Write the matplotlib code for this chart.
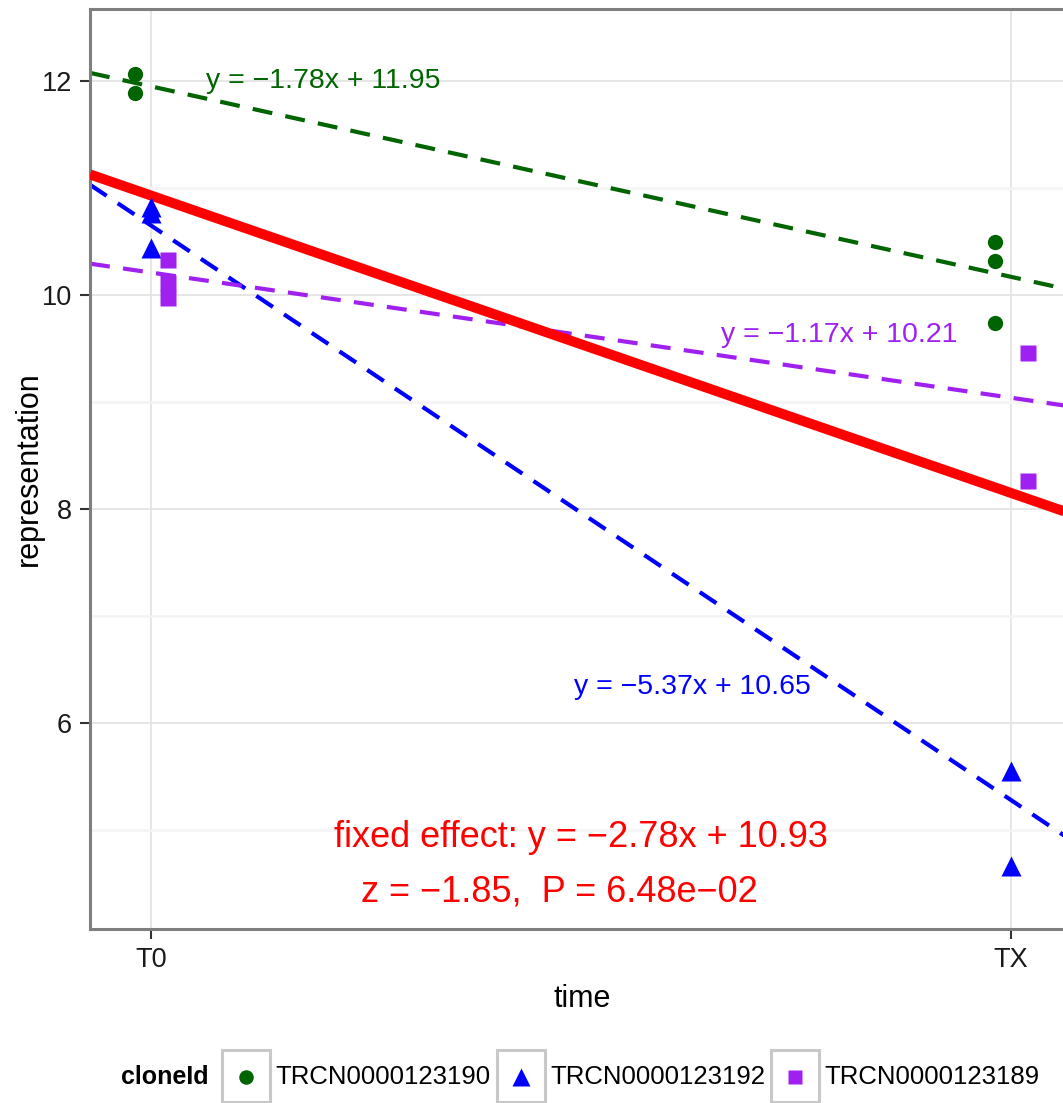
import numpy as np
import matplotlib
matplotlib.use("Agg")
import matplotlib.pyplot as plt
from matplotlib.patches import Rectangle
from matplotlib.lines import Line2D

plt.rcParams["font.family"] = ["Liberation Sans", "DejaVu Sans"]

# ------------------------------------------------------------------
# data: representation per clone at the two time points
# ------------------------------------------------------------------
times = ["T0", "TX"]
clones = ["TRCN0000123190", "TRCN0000123192", "TRCN0000123189"]

rep_t0 = {
    "TRCN0000123190": [12.07, 11.89],
    "TRCN0000123192": [10.82, 10.77, 10.44],
    "TRCN0000123189": [10.33, 10.11, 9.97],
}
rep_tx = {
    "TRCN0000123190": [10.50, 10.32, 9.74],
    "TRCN0000123192": [5.55, 4.66],
    "TRCN0000123189": [9.46, 8.26],
}

# per-clone fits (slope, intercept) and the fixed-effect fit
slopes = [-1.78, -5.37, -1.17]
intercepts = [11.95, 10.65, 10.21]
fixed_slope, fixed_intercept = -2.78, 10.93
fixed_z, fixed_p = -1.85, 6.48e-02

# ------------------------------------------------------------------
# styling
# ------------------------------------------------------------------
colors = ["#006400", "#0000FF", "#A020F0"]
markers = ["o", "^", "s"]
msizes = [11, 14, 11]
dodge = [-0.019, 0.0, 0.02]
label_pos = [(0.20, 12.0), (0.63, 6.34), (0.80, 9.63)]

W, H = 1063, 1103
fig = plt.figure(figsize=(W / 100, H / 100), dpi=100)


def fx(px):
    return px / W


def fy(py):
    return 1 - py / H


left_px, right_px, top_px, bot_px = 90, 1075, 9, 929
ax = fig.add_axes([fx(left_px), fy(bot_px), fx(right_px) - fx(left_px),
                   fy(top_px) - fy(bot_px)])
ax.set_xlim(-0.0709, 1.0744)
ax.set_ylim(4.075, 12.673)

# grid
ax.set_xticks([0, 1])
ax.set_xticklabels(times)
ax.set_yticks([6, 8, 10, 12])
ax.set_yticks([5, 7, 9, 11], minor=True)
ax.grid(which="major", color="#e6e6e6", lw=1.4, zorder=0)
ax.grid(which="minor", axis="y", color="#f4f4f4", lw=1.8, zorder=0)
ax.set_axisbelow(True)

for s in ["left", "bottom", "top"]:
    ax.spines[s].set_color("#7f7f7f")
    ax.spines[s].set_linewidth(2.2)
ax.spines["right"].set_visible(False)

ax.tick_params(axis="both", which="major", length=7, width=1.5,
               color="#333333", labelsize=19.5, labelcolor="#1a1a1a")
ax.tick_params(axis="both", which="minor", length=0)
ax.tick_params(axis="y", pad=6)
ax.tick_params(axis="x", pad=6)

ax.set_xlabel("time", fontsize=22, labelpad=8)
ax.set_ylabel("representation", fontsize=22, labelpad=-2)

# per-clone regression lines and points
for i, c in enumerate(clones):
    ax.axline((0, intercepts[i]), slope=slopes[i], color=colors[i], lw=3.0,
              ls=(0, (4.8, 3.2)), zorder=2)
    y0 = rep_t0[c]
    y1 = rep_tx[c]
    ax.plot(np.full(len(y0), 0 + dodge[i]), y0, ls="none", marker=markers[i],
            ms=msizes[i], color=colors[i], mec="none", zorder=4)
    ax.plot(np.full(len(y1), 1 + dodge[i]), y1, ls="none", marker=markers[i],
            ms=msizes[i], color=colors[i], mec="none", zorder=4)
    lx, ly = label_pos[i]
    ax.text(lx, ly, f"y = \u2212{abs(slopes[i]):.2f}x + {intercepts[i]:.2f}",
            color=colors[i], fontsize=20.5, ha="center", va="center", zorder=5)

# fixed effect
ax.axline((0, fixed_intercept), slope=fixed_slope, color="#FF0000", lw=7.2,
          zorder=3, solid_capstyle="butt")
ax.text(0.5, 4.93,
        f"fixed effect: y = \u2212{abs(fixed_slope):.2f}x + {fixed_intercept:.2f}",
        color="#FF0000", fontsize=26, ha="center", va="center", zorder=5)
p_mant, p_exp = f"{fixed_p:.2e}".split("e")
p_txt = f"{p_mant}e\u2212{p_exp.lstrip('-')}"
ax.text(0.475, 4.42, f"z = \u2212{abs(fixed_z):.2f},  P = {p_txt}",
        color="#FF0000", fontsize=26, ha="center", va="center", zorder=5)

# legend along the bottom
fig.text(fx(165), fy(1077), "cloneId", fontsize=18, fontweight="bold",
         ha="center", va="center")
box_x = [222, 497, 771]
for i, c in enumerate(clones):
    bx = box_x[i]
    fig.add_artist(Rectangle((fx(bx), fy(1102)), fx(48), fy(1050) - fy(1102),
                             transform=fig.transFigure, fill=False,
                             edgecolor="#c8c8c8", lw=2.2))
    fig.add_artist(Line2D([fx(bx + 24)], [fy(1077)], transform=fig.transFigure,
                          ls="none", marker=markers[i], ms=msizes[i] * 0.95,
                          color=colors[i], mec="none"))
    fig.text(fx(bx + 53), fy(1077), c, fontsize=18.5, ha="left", va="center")

fig.savefig("out.png", dpi=100)
